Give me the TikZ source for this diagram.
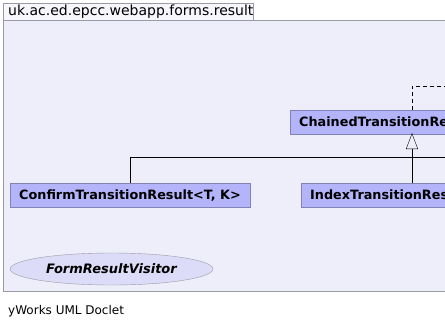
\documentclass[tikz,border=0pt]{standalone}
\usepackage{fontspec}
\setmainfont{DejaVu Sans}
\usetikzlibrary{arrows.meta,shapes.geometric,positioning}

\definecolor{pkgfill}{HTML}{EEEEFA}
\definecolor{tabfill}{HTML}{F6F6FC}
\definecolor{pkgline}{HTML}{9A9AA6}
\definecolor{classfill}{HTML}{B4B4FA}
\definecolor{classline}{HTML}{8282B4}
\definecolor{ifacefill}{HTML}{DCDCF8}

\tikzstyle{package}=[draw=pkgline,fill=pkgfill]
\tikzstyle{pkgtab}=[draw=pkgline,fill=tabfill]
\tikzstyle{classbox}=[draw=classline,fill=classfill,anchor=north west,
  font=\bfseries\fontsize{12.8}{14}\selectfont,minimum height=24pt,inner xsep=9pt,inner ysep=0pt]
\tikzstyle{iface}=[ellipse,draw=pkgline,fill=ifacefill,inner sep=0pt,
  font=\bfseries\itshape\fontsize{13}{15}\selectfont,minimum width=203pt,minimum height=32pt]
\tikzstyle{extends}=[draw,-{Triangle[open,length=16pt,width=12pt]}]
\tikzstyle{implements}=[draw,dashed,dash pattern=on 4pt off 3pt]
\tikzstyle{label}=[anchor=west,inner sep=0pt]

\begin{document}
\begin{tikzpicture}[x=1pt,y=-1pt]
    \useasboundingbox[fill=white] (0,0) rectangle (445,330);
    % the package with its name tab
    \path[package] (3,20) rectangle (600,291);
    \path[pkgtab] (3,3) rectangle (253,20);
    \node[label,font=\fontsize{14}{16}\selectfont] (pkgname) at (8,11.5) {uk.ac.ed.epcc.webapp.forms.result};
    % classes and the interface
    \node[classbox] (chained) at (290,110) {ChainedTransitionResult};
    \node[classbox] (confirm) at (10,183) {ConfirmTransitionResult<T, K>};
    \node[classbox] (index) at (301,183) {IndexTransitionResult};
    \node[iface] (visitor) at (111.5,269) {FormResultVisitor};
    % inheritance edges meet at the arrow head
    \coordinate (head) at (412,133);
    \coordinate (rjoin) at (460,157);
    \coordinate (cfoot) at (130,183);
    \coordinate (ifoot) at (412,183);
    \path[draw] (cfoot) |- (rjoin);
    \path[extends] (ifoot) -- (head);
    % realisation going off to the right
    \coordinate (rtop) at (412,110);
    \coordinate (rout) at (460,86);
    \path[implements] (rtop) |- (rout);
    \node[label,font=\fontsize{12}{14}\selectfont] (doclet) at (8,311) {yWorks UML Doclet};
\end{tikzpicture}
\end{document}
